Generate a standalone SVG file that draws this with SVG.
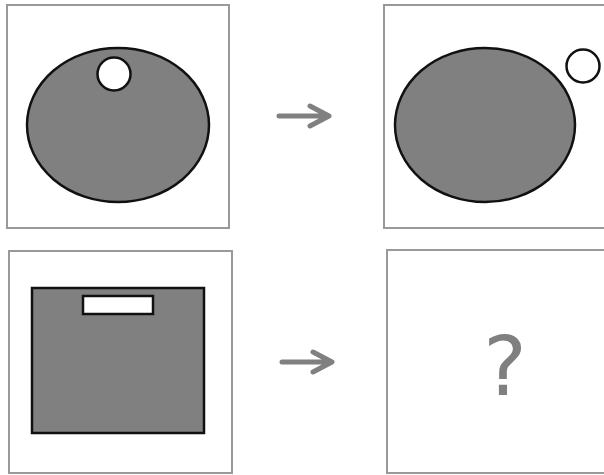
<svg xmlns="http://www.w3.org/2000/svg" width="604" height="475" viewBox="0 0 604 475">
<style>
.frame{fill:#fff;stroke:#999;stroke-width:2}
.shape{fill:#808080;stroke:#111;stroke-width:2.5}
.hole{fill:#fff;stroke:#111;stroke-width:2.5}
.arrow{fill:none;stroke:#808080;stroke-width:5;stroke-linecap:round;stroke-linejoin:round}
.q{font-family:"DejaVu Sans",sans-serif;font-size:82px;fill:#808080;text-anchor:middle}
</style>
<rect width="604" height="475" fill="#fff"/>
<g id="panel1">
<rect class="frame" x="7" y="5" width="222" height="223"/>
<ellipse class="shape" cx="118" cy="125" rx="91" ry="77"/>
<circle class="hole" cx="114" cy="74" r="16.5"/>
</g>
<g id="panel2">
<rect class="frame" x="384" y="5" width="230" height="223"/>
<ellipse class="shape" cx="485" cy="125" rx="90" ry="77"/>
<circle class="hole" cx="583" cy="66" r="16.5"/>
</g>
<g id="panel3">
<rect class="frame" x="9" y="251" width="223" height="222"/>
<rect class="shape" x="32" y="288" width="172" height="145"/>
<rect class="hole" x="83" y="296" width="70" height="18"/>
</g>
<g id="panel4">
<rect class="frame" x="387" y="250" width="230" height="223"/>
<text class="q" x="505" y="395">?</text>
</g>
<g id="connectors">
<path class="arrow" d="M279 116 H328 M310 106 L329 116 L310 126"/>
<path class="arrow" d="M282 362 H331 M313 352 L332 362 L313 372"/>
</g>
</svg>
